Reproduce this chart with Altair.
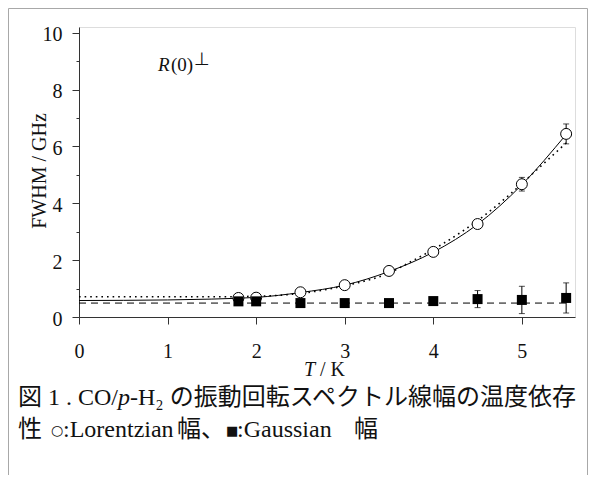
import altair as alt
import pandas as pd

# ---- data ----
lor_T = [1.8, 2.0, 2.5, 3.0, 3.5, 4.0, 4.5, 5.0, 5.5]
lor_W = [0.67, 0.68, 0.87, 1.12, 1.62, 2.29, 3.27, 4.67, 6.44]
lor_err = [0, 0, 0, 0, 0, 0, 0, 0.24, 0.35]

gau_T = [1.8, 2.0, 2.5, 3.0, 3.5, 4.0, 4.5, 5.0, 5.5]
gau_W = [0.55, 0.55, 0.49, 0.49, 0.49, 0.56, 0.63, 0.60, 0.67]
gau_err = [0, 0, 0, 0, 0, 0, 0.30, 0.48, 0.53]

fit_T = [0.0, 1.0, 1.5, 1.8, 2.0, 2.5, 3.0, 3.5, 4.0, 4.5, 5.0, 5.5]
fit_W = [0.58, 0.60, 0.63, 0.66, 0.69, 0.86, 1.12, 1.60, 2.28, 3.26, 4.65, 6.42]

dot_T = [0.0, 1.0, 1.5, 2.0, 2.5, 3.0, 3.5, 3.75, 4.1, 4.56, 4.86, 5.17, 5.5]
dot_W = [0.71, 0.71, 0.71, 0.73, 0.83, 1.10, 1.55, 1.95, 2.56, 3.53, 4.30, 5.18, 6.12]

dash_T = [0.0, 5.5]
dash_W = [0.49, 0.49]

x_ticks = [0, 1, 2, 3, 4, 5]
y_ticks = [0, 1, 2, 3, 4, 5, 6, 7, 8, 9, 10]

SERIF = "Liberation Serif, Noto Sans CJK JP"
LAT = "Liberation Serif"
CJK = "Noto Sans CJK JP"
SYM = "DejaVu Sans"
AX = "#333333"

# ---- tables ----
lor = pd.DataFrame({"T": lor_T, "W": lor_W, "e": lor_err})
gau = pd.DataFrame({"T": gau_T, "W": gau_W, "e": gau_err})
errs = pd.concat([lor, gau])
errs = errs[errs.e > 0].copy()
errs["lo"] = errs.W - errs.e
errs["hi"] = errs.W + errs.e
fit = pd.DataFrame({"T": fit_T, "W": fit_W})
dot = pd.DataFrame({"T": dot_T, "W": dot_W})
dash = pd.DataFrame({"T": dash_T, "W": dash_W})

xscale = alt.Scale(domain=[0, 5.6], nice=False, zero=False)
yscale = alt.Scale(domain=[0, 10.2], nice=False, zero=False)

xaxis = alt.Axis(values=x_ticks, tickSize=7, labelPadding=17, title=None, grid=False,
                 labelFont=LAT, labelFontSize=20, labelColor="#111",
                 domainColor=AX, tickColor=AX, labelFlush=False)
yaxis = alt.Axis(values=y_ticks,
                 labelExpr="datum.value % 2 == 0 ? datum.label : ''",
                 tickSize={"condition": {"test": "datum.value % 2 == 0", "value": 7}, "value": 3},
                 labelPadding=10, title=None, grid=False,
                 labelFont=LAT, labelFontSize=20, labelColor="#111",
                 domainColor=AX, tickColor=AX, labelOffset=2)


def X(f="T"):
    return alt.X(f"{f}:Q", scale=xscale, axis=xaxis)


def Y(f="W"):
    return alt.Y(f"{f}:Q", scale=yscale, axis=yaxis)


fit_line = alt.Chart(fit).mark_line(color="black", strokeWidth=1, interpolate="monotone").encode(x=X(), y=Y())
dot_line = alt.Chart(dot).mark_line(color="black", strokeWidth=1.6, strokeDash=[1.6, 4],
                                     interpolate="monotone").encode(x=X(), y=Y())
dash_line = alt.Chart(dash).mark_line(color="black", strokeWidth=1, strokeDash=[7, 5]).encode(x=X(), y=Y())

err_rule = alt.Chart(errs).mark_rule(color="black", strokeWidth=1).encode(
    x=X(), y=Y("lo"), y2="hi:Q")
cap_lo = alt.Chart(errs).mark_tick(color="black", orient="horizontal", size=6, thickness=1).encode(
    x=X(), y=Y("lo"))
cap_hi = alt.Chart(errs).mark_tick(color="black", orient="horizontal", size=6, thickness=1).encode(
    x=X(), y=Y("hi"))

circles = alt.Chart(lor).mark_point(shape="circle", size=120, filled=True, fill="white",
                                    stroke="black", strokeWidth=1, opacity=1).encode(x=X(), y=Y())
squares = alt.Chart(gau).mark_square(size=100, color="black", opacity=1).encode(x=X(), y=Y())

one = pd.DataFrame({"a": [0]})


def txt(s, px, py, size=20, style="normal", align="left", baseline="middle", angle=0, font=SERIF):
    kw = dict(font=font, fontSize=size, fontStyle=style, align=align, baseline=baseline, color="#111")
    if angle:
        kw["angle"] = angle
    return alt.Chart(one).mark_text(**kw).encode(
        x=alt.value(px), y=alt.value(py), text=alt.value(s))


L1, L2 = 371, 403
# plot origin on the page: (79, 27)
texts = [
    txt("FWHM / GHz", -39, 144, angle=270, align="center", font=LAT),
    txt("T", 225, 343, style="italic", font=LAT),
    txt("/ K", 241, 343, font=LAT),
    txt("R", 79, 44, size=19, style="italic", baseline="alphabetic", font=LAT),
    txt("(0)", 92, 44, size=19, baseline="alphabetic", font=LAT),
    txt("⊥", 115, 38, size=18, baseline="alphabetic", font=SYM),
    # caption line 1
    txt("図 1 . CO/", -61, L1, size=24),
    txt("p", 39, L1, size=24, style="italic", font=LAT),
    txt("-H₂ の振動回転スペクトル線幅の温度依存", 51, L1, size=24),
    # caption line 2
    txt("性", -61, L2, size=24, font=CJK),
    txt("○", -28, L2 + 1, size=14, font=SYM),
    txt(":Lorentzian", -16, L2, size=24, font=LAT),
    txt("幅、", 98, L2, size=24, font=CJK),
    txt("■", 147, L2 + 1, size=13, font=SYM),
    txt(":Gaussian", 158, L2, size=24, font=LAT),
    txt("幅", 275, L2, size=24, font=CJK),
]

border = [
    alt.Chart(one).mark_rule(color="#a8a8a8", strokeWidth=1).encode(
        x=alt.value(-70.5), x2=alt.value(508.5), y=alt.value(-18.5)),
    alt.Chart(one).mark_rule(color="#a8a8a8", strokeWidth=1).encode(
        x=alt.value(-70.5), y=alt.value(-18.5), y2=alt.value(460)),
    alt.Chart(one).mark_rule(color="#a8a8a8", strokeWidth=1).encode(
        x=alt.value(508.5), y=alt.value(-18.5), y2=alt.value(460)),
]

chart = alt.layer(
    dash_line, dot_line, fit_line, err_rule, cap_lo, cap_hi, circles, squares, *texts, *border
).properties(
    width=496, height=290,
    autosize=alt.AutoSizeParams(type="none"),
    padding={"left": 71, "top": 19, "right": 13, "bottom": 158},
).configure_view(stroke=None).configure(background="white")

chart.save("out.html", embed_options={"renderer": "svg", "actions": False})
